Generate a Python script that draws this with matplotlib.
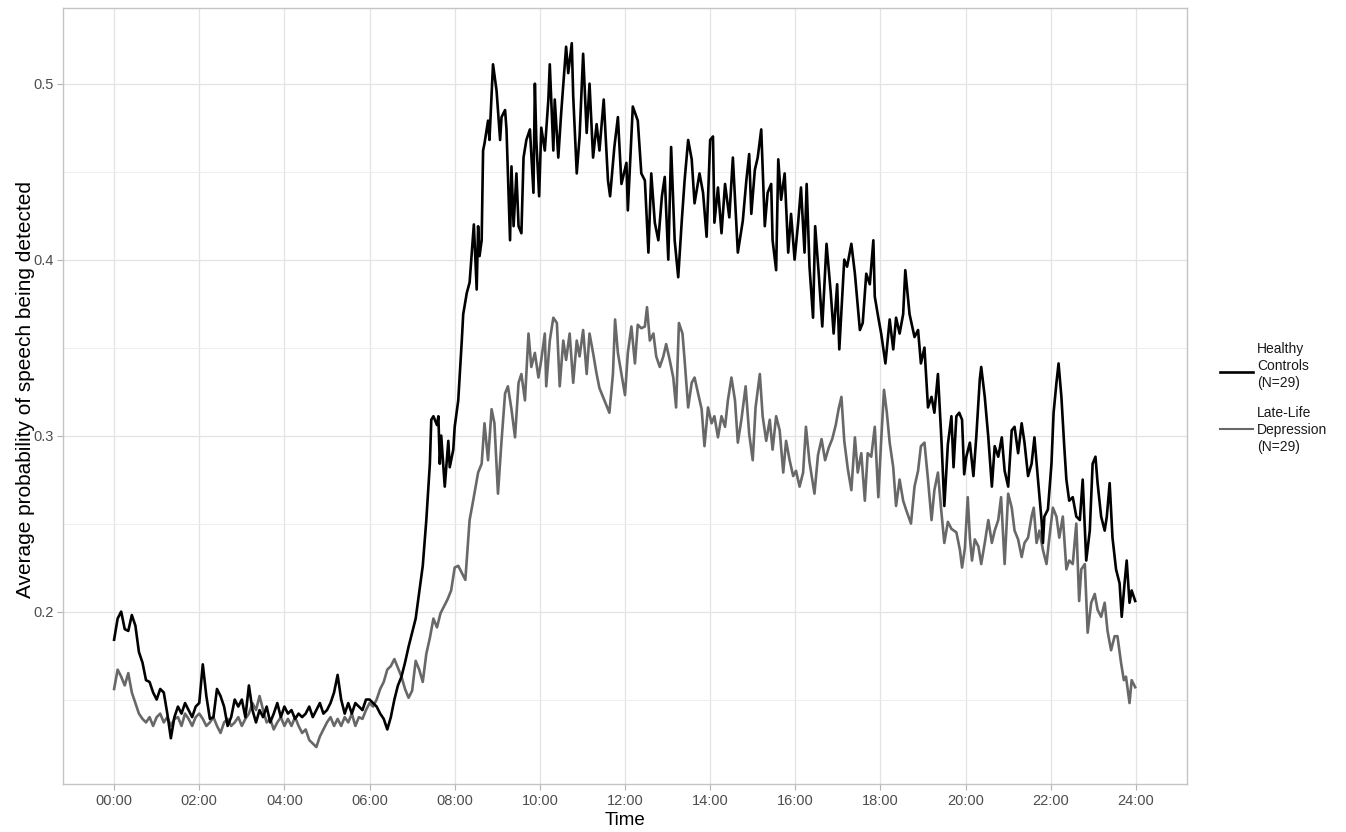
import matplotlib
matplotlib.use("Agg")
import matplotlib.pyplot as plt
from matplotlib.lines import Line2D
import numpy as np

plt.rcParams['font.family'] = ['Liberation Sans', 'DejaVu Sans']

# ---------------- data ----------------
hc_time = ["0:00","0:05","0:10","0:15","0:20","0:25","0:30","0:35","0:40","0:45","0:50","0:55",
"1:00","1:05","1:10","1:15","1:20","1:25","1:30","1:35","1:40","1:45","1:50","1:55",
"2:00","2:05","2:10","2:15","2:20","2:25","2:30","2:35","2:40","2:45","2:50","2:55",
"3:00","3:05","3:10","3:15","3:20","3:25","3:30","3:35","3:40","3:45","3:50","3:55",
"4:00","4:05","4:10","4:15","4:20","4:25","4:30","4:35","4:40","4:45","4:50","4:55",
"5:00","5:05","5:10","5:15","5:20","5:25","5:30","5:35","5:40","5:45","5:50","5:55",
"6:00","6:05","6:10","6:15","6:20","6:25","6:30","6:35","6:40","6:45","6:50","6:55",
"7:00","7:05","7:10","7:15","7:20","7:25","7:27","7:30","7:35","7:37","7:39","7:41","7:46","7:51","7:53","7:58",
"8:00","8:05","8:10","8:12","8:17","8:21","8:27","8:31","8:33","8:35","8:38","8:40","8:42","8:47","8:49","8:54","8:59",
"9:04","9:06","9:11","9:13","9:18","9:20","9:23","9:27","9:30","9:34","9:37","9:41","9:46","9:51","9:53","9:55","9:59",
"10:02","10:07","10:12","10:14","10:19","10:21","10:26","10:30","10:35","10:37","10:40","10:45","10:47","10:52","10:56",
"11:01","11:06","11:10","11:15","11:20","11:24","11:30","11:36","11:39","11:45","11:50","11:55",
"12:02","12:04","12:11","12:18","12:23","12:28","12:33","12:37","12:42","12:47","12:52","12:56",
"13:01","13:05","13:10","13:15","13:20","13:24","13:29","13:34","13:38","13:45","13:50","13:55",
"14:00","14:04","14:06","14:11","14:16","14:21","14:27","14:32","14:39","14:46","14:51","14:55","14:58",
"15:03","15:07","15:12","15:17","15:21","15:26","15:28","15:33","15:36","15:40","15:45","15:50","15:54","15:59",
"16:04","16:08","16:13","16:16","16:20","16:25","16:28","16:33","16:38","16:44","16:50","16:54","16:59",
"17:02","17:09","17:13","17:19","17:24","17:31","17:35","17:40","17:45","17:50","17:52","17:57",
"18:01","18:07","18:13","18:18","18:22","18:27","18:32","18:35","18:41","18:48","18:53","18:57",
"19:02","19:07","19:12","19:16","19:21","19:26","19:30","19:35","19:40","19:43","19:47","19:51","19:55","19:58",
"20:01","20:06","20:11","20:15","20:20","20:22","20:27","20:32","20:37","20:41","20:46","20:51","20:55",
"21:00","21:05","21:09","21:14","21:19","21:23","21:28","21:33","21:37","21:42","21:47","21:49","21:51","21:56",
"22:01","22:04","22:08","22:11","22:15","22:19","22:22","22:26","22:31","22:36","22:41","22:45","22:50","22:55","22:59",
"23:03","23:06","23:11","23:16","23:19","23:23","23:27","23:32","23:37","23:40","23:44","23:47","23:51","23:54","23:59"]
hc_prob = [.184,.196,.200,.190,.189,.198,.192,.177,.171,.161,.160,.154,
.150,.156,.154,.142,.128,.140,.146,.142,.148,.144,.140,.146,
.148,.170,.152,.139,.140,.156,.152,.146,.135,.140,.150,.146,
.150,.140,.158,.144,.137,.144,.140,.146,.137,.142,.148,.140,
.146,.142,.144,.139,.142,.140,.142,.146,.140,.144,.148,.142,
.144,.148,.154,.164,.150,.142,.148,.142,.148,.146,.144,.150,
.150,.148,.146,.142,.139,.133,.140,.150,.158,.163,.171,.180,
.188,.196,.211,.226,.252,.284,.309,.311,.306,.311,.284,.300,.271,.297,.282,.292,
.305,.320,.354,.369,.381,.387,.420,.383,.419,.402,.411,.462,.466,.479,.468,.511,.496,
.468,.481,.485,.474,.411,.453,.419,.449,.419,.415,.458,.468,.474,.438,.500,.468,.436,
.475,.462,.491,.511,.462,.491,.458,.483,.510,.521,.506,.523,.493,.449,.470,
.517,.472,.500,.458,.477,.462,.491,.445,.436,.464,.481,.443,
.455,.428,.487,.479,.449,.445,.404,.449,.421,.411,.436,.447,
.400,.464,.411,.390,.422,.445,.468,.457,.432,.449,.438,.413,
.468,.470,.421,.441,.415,.443,.424,.458,.404,.422,.445,.460,.426,
.451,.458,.474,.419,.438,.443,.411,.394,.457,.434,.449,.404,.426,.400,
.421,.441,.404,.443,.396,.367,.419,.392,.362,.409,.381,.358,.386,
.349,.400,.396,.409,.392,.360,.364,.392,.386,.411,.379,.367,
.358,.341,.366,.349,.367,.358,.369,.394,.369,.356,.360,.341,
.350,.316,.322,.313,.335,.297,.260,.295,.311,.282,.311,.313,.309,.278,
.288,.296,.277,.299,.332,.339,.322,.299,.271,.294,.288,.299,.280,
.271,.303,.305,.290,.307,.296,.277,.284,.299,.275,.252,.239,.254,.258,
.284,.313,.330,.341,.322,.294,.275,.263,.265,.254,.252,.275,.229,.246,.284,
.288,.273,.254,.246,.254,.273,.242,.224,.216,.197,.216,.229,.205,.212,.206]

lld_time = ["0:00","0:05","0:10","0:15","0:20","0:25","0:30","0:35","0:40","0:45","0:50","0:55",
"1:00","1:05","1:10","1:15","1:20","1:25","1:30","1:35","1:40","1:45","1:50","1:55",
"2:00","2:05","2:10","2:15","2:20","2:25","2:30","2:35","2:40","2:45","2:50","2:55",
"3:00","3:05","3:10","3:15","3:20","3:25","3:30","3:35","3:40","3:45","3:50","3:55",
"4:00","4:05","4:10","4:15","4:20","4:25","4:30","4:35","4:40","4:45","4:50","4:55",
"5:00","5:05","5:10","5:15","5:20","5:25","5:30","5:35","5:40","5:45","5:50","5:55",
"6:00","6:05","6:10","6:15","6:20","6:25","6:30","6:35","6:40","6:45","6:50","6:55",
"7:00","7:05","7:10","7:15","7:20","7:25","7:30","7:35","7:40","7:45","7:50","7:55",
"8:00","8:05","8:10","8:15","8:21","8:26","8:33","8:38","8:42","8:47","8:52","8:56",
"9:01","9:06","9:11","9:15","9:20","9:25","9:30","9:34","9:39","9:44","9:48","9:53","9:58",
"10:02","10:07","10:09","10:14","10:19","10:24","10:28","10:33","10:37","10:42","10:47","10:52","10:56",
"11:01","11:06","11:10","11:15","11:20","11:24","11:31","11:38","11:43","11:46","11:50","11:55",
"12:00","12:04","12:09","12:14","12:18","12:23","12:28","12:31","12:35","12:40","12:44","12:49","12:54","12:58",
"13:03","13:08","13:12","13:16","13:21","13:24","13:29","13:34","13:38","13:43","13:48","13:52","13:57",
"14:02","14:06","14:11","14:16","14:21","14:25","14:30","14:35","14:39","14:44","14:50","14:55",
"15:00","15:04","15:10","15:14","15:19","15:24","15:28","15:33","15:38","15:43","15:47","15:52","15:57",
"16:01","16:06","16:11","16:15","16:20","16:27","16:32","16:37","16:42","16:47","16:52","16:57",
"17:01","17:05","17:09","17:14","17:19","17:24","17:28","17:33","17:38","17:42","17:47","17:52","17:57",
"18:01","18:05","18:09","18:13","18:18","18:22","18:27","18:32","18:36","18:43","18:48","18:53","18:57",
"19:02","19:07","19:12","19:16","19:21","19:26","19:30","19:35","19:40","19:47","19:52","19:55","19:59",
"20:03","20:06","20:09","20:13","20:18","20:22","20:27","20:32","20:37","20:41","20:46","20:50","20:55",
"21:00","21:05","21:09","21:14","21:19","21:23","21:28","21:33","21:36","21:40","21:44","21:49","21:54","21:58",
"22:03","22:08","22:12","22:17","22:22","22:26","22:31","22:36","22:40","22:43","22:48","22:52","22:57",
"23:02","23:06","23:11","23:16","23:20","23:25","23:30","23:34","23:39","23:43","23:46","23:51","23:54","23:59"]
lld_prob = [.156,.167,.163,.158,.165,.154,.148,.142,.139,.137,.140,.135,
.140,.142,.137,.140,.135,.139,.140,.135,.142,.139,.135,.140,
.142,.139,.135,.137,.140,.135,.131,.137,.139,.135,.137,.140,
.135,.139,.142,.148,.144,.152,.144,.137,.139,.133,.137,.140,
.135,.139,.135,.140,.135,.131,.133,.127,.125,.123,.129,.133,
.137,.140,.135,.139,.135,.140,.137,.142,.135,.140,.139,.144,
.148,.146,.150,.156,.160,.167,.169,.173,.168,.163,.156,.151,
.155,.172,.167,.160,.176,.185,.196,.191,.199,.203,.207,.212,
.225,.226,.222,.218,.252,.263,.279,.284,.307,.286,.315,.307,
.267,.297,.324,.328,.315,.299,.330,.335,.320,.358,.339,.347,.333,
.343,.358,.328,.354,.367,.364,.328,.354,.343,.358,.330,.354,.345,
.360,.335,.358,.347,.335,.327,.320,.313,.335,.366,.347,.335,
.323,.347,.362,.341,.363,.361,.362,.373,.354,.358,.345,.339,.345,.352,
.343,.333,.316,.364,.358,.343,.316,.330,.333,.324,.315,.294,.316,
.307,.311,.299,.311,.305,.320,.333,.320,.296,.309,.328,.301,
.286,.316,.335,.311,.297,.309,.292,.311,.303,.279,.297,.286,.277,
.280,.271,.279,.305,.285,.267,.289,.298,.286,.293,.298,.306,
.315,.322,.297,.281,.269,.299,.279,.290,.263,.290,.288,.305,.265,
.297,.326,.313,.296,.282,.260,.275,.263,.258,.250,.271,.280,.294,
.296,.275,.252,.269,.279,.256,.239,.251,.247,.245,.235,.225,.236,
.265,.242,.229,.241,.237,.227,.239,.252,.239,.246,.252,.265,.227,
.267,.259,.246,.241,.231,.239,.242,.254,.259,.239,.246,.235,.227,.242,
.259,.254,.242,.254,.224,.229,.227,.250,.206,.224,.227,.188,.205,
.210,.201,.197,.205,.189,.178,.186,.186,.171,.161,.163,.148,.161,.157]

x_ticks = ["00:00","02:00","04:00","06:00","08:00","10:00","12:00",
           "14:00","16:00","18:00","20:00","22:00","24:00"]
y_ticks = [0.2, 0.3, 0.4, 0.5]
series_labels = ["Healthy\nControls\n(N=29)", "Late-Life\nDepression\n(N=29)"]


def to_hours(labels):
    out = []
    for s in labels:
        h, m = s.split(":")
        out.append(int(h) + int(m) / 60.0)
    return np.array(out)


W, H = 1346, 832
fig = plt.figure(figsize=(W / 100, H / 100), dpi=100)
ax = fig.add_axes([63 / W, (H - 784) / H, (1187 - 63) / W, (784 - 8) / H])

black = "#000000"
gray = "#686868"
ax.plot(to_hours(hc_time), hc_prob, color=black, lw=1.9, zorder=3,
        solid_joinstyle="round")
ax.plot(to_hours(lld_time), lld_prob, color=gray, lw=1.9, zorder=2,
        solid_joinstyle="round")

ax.set_xlim(-1.2, 25.2)
ax.set_ylim(0.102, 0.543)

xt = to_hours(x_ticks)
ax.set_xticks(xt)
ax.set_xticklabels(x_ticks)
ax.set_yticks(y_ticks)
ax.set_yticklabels([f"{v:g}" for v in y_ticks])
ax.set_yticks([0.15, 0.25, 0.35, 0.45], minor=True)

ax.grid(True, which="major", color="#e3e3e3", lw=0.9, zorder=0)
ax.grid(True, which="minor", axis="y", color="#eeeeee", lw=0.7, zorder=0)
ax.set_axisbelow(True)
for sp in ax.spines.values():
    sp.set_color("#c4c4c4")
    sp.set_linewidth(1.0)

ax.tick_params(axis="both", which="major", length=4, width=0.8, color="#b3b3b3",
               labelsize=10.5, labelcolor="#4d4d4d", pad=3)
ax.tick_params(axis="both", which="minor", length=0)

ax.set_xlabel("Time", fontsize=13.5, color="#000000", labelpad=3)
ax.set_ylabel("Average probability of speech being detected", fontsize=15,
              color="#000000")
ax.yaxis.set_label_coords((35 - 63) / (1187 - 63), (784 - 390) / (784 - 8))

# legend (drawn in figure pixel coordinates, no title)
def fx(px):
    return px / W

def fy(py):
    return 1 - py / H

for (ky, ty, lab, col, lw) in [(372, 366, series_labels[0], black, 1.9),
                               (429, 430, series_labels[1], gray, 1.5)]:
    fig.add_artist(Line2D([fx(1220), fx(1253)], [fy(ky), fy(ky)],
                          color=col, lw=lw, transform=fig.transFigure))
    fig.text(fx(1257), fy(ty), lab, fontsize=10, color="#1a1a1a",
             ha="left", va="center", linespacing=1.25)

fig.savefig("out.png", dpi=100, facecolor="white")
